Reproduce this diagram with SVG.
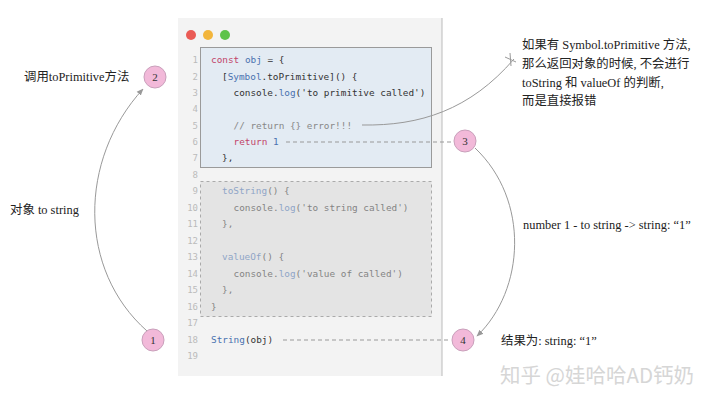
<svg xmlns="http://www.w3.org/2000/svg" width="720" height="402" viewBox="0 0 720 402">
<defs>
<marker id="ah" viewBox="0 0 10 10" refX="9" refY="5" markerWidth="7" markerHeight="7" orient="auto-start-reverse">
<path d="M0,1 L10,5 L0,9 z" fill="#999"/>
</marker>
<style>
.code{font-family:"DejaVu Sans Mono",monospace;font-size:9.4px;fill:#333;}
.ln{font-family:"DejaVu Sans Mono",monospace;font-size:9px;fill:#bbb;text-anchor:end;}
.kw{fill:#c2456a;}
.bl{fill:#4a72b0;}
.cm{fill:#888;}
.lbl{font-family:"Liberation Serif","Noto Sans CJK SC",serif;font-size:12.4px;fill:#222;}
.num{font-family:"Liberation Serif",serif;font-size:11px;fill:#333;text-anchor:middle;}
.node circle{fill:#f2b9d9;stroke:#c9a0bb;stroke-width:1;}
.conn path{fill:none;stroke:#999;stroke-width:1;}
.dash{stroke-dasharray:4 3;}
</style>
</defs>
<rect width="720" height="402" fill="#fff"/>
<g id="panel">
<rect x="178" y="18" width="264" height="358" fill="#f3f3f3"/>
<line x1="442" y1="18" x2="442" y2="376" stroke="#bbb" stroke-width="1"/>
<circle cx="191" cy="35" r="5" fill="#ea5b55"/>
<circle cx="208" cy="35" r="5" fill="#f2b53c"/>
<circle cx="225" cy="35" r="5" fill="#5ec34a"/>
<rect x="200.5" y="47.5" width="231" height="120" fill="#e3ebf3" stroke="#9a9a9a" stroke-width="1"/>
<rect x="200.5" y="181.5" width="231" height="135" fill="#e4e4e4" stroke="#aaa" stroke-width="1" stroke-dasharray="3 3"/>
<g>
<text class="ln" x="198" y="63">1</text>
<text class="ln" x="198" y="80">2</text>
<text class="ln" x="198" y="96">3</text>
<text class="ln" x="198" y="112">4</text>
<text class="ln" x="198" y="129">5</text>
<text class="ln" x="198" y="145">6</text>
<text class="ln" x="198" y="161">7</text>
<text class="ln" x="198" y="178">8</text>
<text class="ln" x="198" y="194">9</text>
<text class="ln" x="198" y="211">10</text>
<text class="ln" x="198" y="227">11</text>
<text class="ln" x="198" y="244">12</text>
<text class="ln" x="198" y="260">13</text>
<text class="ln" x="198" y="277">14</text>
<text class="ln" x="198" y="293">15</text>
<text class="ln" x="198" y="310">16</text>
<text class="ln" x="198" y="326">17</text>
<text class="ln" x="198" y="343">18</text>
<text class="ln" x="198" y="359">19</text>
</g>
<text class="code" x="211" y="63"><tspan class="kw">const</tspan> <tspan class="bl">obj</tspan> = {</text>
<text class="code" x="222" y="80">[<tspan class="bl">Symbol</tspan>.toPrimitive]() {</text>
<text class="code" x="233.5" y="96">console.<tspan class="bl">log</tspan>('to primitive called')</text>
<text class="code cm" x="233.5" y="129">// return {} error!!!</text>
<text class="code" x="233.5" y="145"><tspan class="kw">return</tspan> <tspan class="bl">1</tspan></text>
<text class="code" x="222" y="161">},</text>
<g opacity="0.55">
<text class="code" x="222" y="194"><tspan class="bl">toString</tspan>() {</text>
<text class="code" x="233.5" y="211">console.<tspan class="bl">log</tspan>('to string called')</text>
<text class="code" x="222" y="227">},</text>
<text class="code" x="222" y="260"><tspan class="bl">valueOf</tspan>() {</text>
<text class="code" x="233.5" y="277">console.<tspan class="bl">log</tspan>('value of called')</text>
<text class="code" x="222" y="293">},</text>
<text class="code" x="211" y="310">}</text>
</g>
<text class="code" x="211" y="343"><tspan class="bl">String</tspan>(obj)</text>
</g>
<g class="conn" id="connectors">
<path d="M147,331 C78,270 78,160 143,89" marker-end="url(#ah)"/>
<path d="M475,148 C530,200 525,290 477,336" marker-end="url(#ah)"/>
<path class="dash" d="M286,142 L453,142"/>
<path class="dash" d="M283,340 L451,340"/>
<path d="M362,125 C420,126 470,110 514,59"/>
<path d="M505,57 L516,62 M510,53 L511,66" stroke-width="0.6"/>
</g>
<g class="node" id="n1"><circle cx="153" cy="340" r="11"/><text class="num" x="153" y="344">1</text></g>
<g class="node" id="n2"><circle cx="155" cy="77" r="11"/><text class="num" x="155" y="81">2</text></g>
<g class="node" id="n3"><circle cx="465" cy="141" r="11"/><text class="num" x="465" y="145">3</text></g>
<g class="node" id="n4"><circle cx="463" cy="340" r="11"/><text class="num" x="463" y="344">4</text></g>
<g id="labels">
<text class="lbl" x="24" y="81">调用toPrimitive方法</text>
<text class="lbl" x="10" y="214">对象 to string</text>
<text class="lbl" x="522" y="49">如果有 Symbol.toPrimitive 方法,</text>
<text class="lbl" x="522" y="68">那么返回对象的时候, 不会进行</text>
<text class="lbl" x="522" y="87">toString 和 valueOf 的判断,</text>
<text class="lbl" x="522" y="105">而是直接报错</text>
<text class="lbl" x="523" y="229">number 1 - to string -&gt; string: “1”</text>
<text class="lbl" x="501" y="345">结果为: string: “1”</text>
<text x="500" y="383" font-family="Noto Sans CJK SC, sans-serif" font-size="20.5" fill="#d6d6d6">知乎 @娃哈哈AD钙奶</text>
</g>
</svg>
